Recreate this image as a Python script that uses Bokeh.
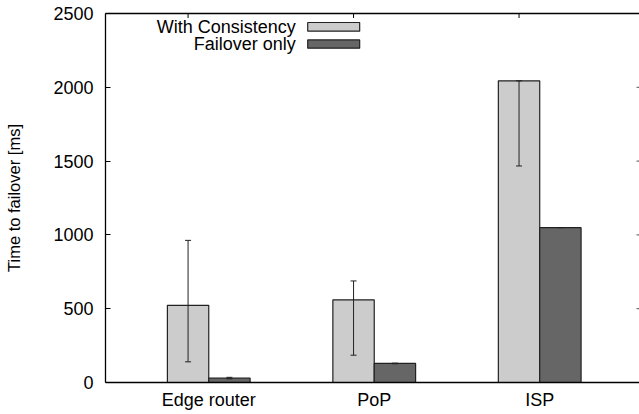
import numpy as np
from bokeh.plotting import figure
from bokeh.models import Range1d, FixedTicker, LinearAxis, ColumnDataSource, Whisker, TeeHead
from bokeh.core.properties import value
from bokeh.embed import file_html
from bokeh.resources import INLINE

# ---- data ----
categories = ["Edge router", "PoP", "ISP"]
consistency = [523, 560, 2044]
consistency_lo = [140, 185, 1467]
consistency_hi = [963, 688, 2044]
failover = [29, 129, 1049]
failover_lo = [25, 127, 1049]
failover_hi = [35, 131, 1050]
y_ticks = [0, 500, 1000, 1500, 2000, 2500]
series_names = ["With Consistency", "Failover only"]
series_colors = ["#cccccc", "#666666"]

FONT = "Liberation Sans"
idx = np.arange(len(categories), dtype=float)
bar_w = 0.25
x_start, x_end = -0.624, 2.603
y_start, y_end = 0, 2500

p = figure(frame_width=534, frame_height=369,
           x_range=Range1d(x_start, x_end), y_range=Range1d(y_start, y_end),
           output_backend="svg", toolbar_location=None,
           min_border_left=105, min_border_right=0, min_border_top=13,
           min_border_bottom=31)
p.outline_line_color = None
p.grid.grid_line_color = None
p.background_fill_color = "white"
p.border_fill_color = "white"

src1 = ColumnDataSource(dict(x=idx - bar_w / 2, top=consistency,
                             lo=consistency_lo, hi=consistency_hi))
src2 = ColumnDataSource(dict(x=idx + bar_w / 2, top=failover,
                             lo=failover_lo, hi=failover_hi))

p.vbar(x="x", top="top", width=bar_w, bottom=0, source=src1,
       fill_color=series_colors[0], line_color="#222222", line_width=1.2)
p.vbar(x="x", top="top", width=bar_w, bottom=0, source=src2,
       fill_color=series_colors[1], line_color="#222222", line_width=1.2)

for src in (src1, src2):
    w = Whisker(source=src, base="x", upper="hi", lower="lo",
                line_color="#222222", line_width=1,
                upper_head=TeeHead(size=6, line_color="#222222", line_width=1),
                lower_head=TeeHead(size=6, line_color="#222222", line_width=1),
                level="overlay")
    p.add_layout(w)

# ---- legend (gnuplot style: text right-aligned, swatch to the right) ----
leg_text_x = [0.526, 0.526]
leg_text_y = [2407, 2292]
leg_box_left = [0.598, 0.598]
leg_box_right = [0.912, 0.912]
leg_box_top = [2439, 2321]
leg_box_bottom = [2380, 2265]
p.text(x=leg_text_x, y=leg_text_y, text=series_names,
       text_align="right", text_baseline="middle",
       text_font=value(FONT), text_font_size="18px", text_color="black")
p.quad(left=leg_box_left, right=leg_box_right, top=leg_box_top,
       bottom=leg_box_bottom, fill_color=series_colors,
       line_color="#222222", line_width=1.2)

# ---- mirrored tick marks (top: at first-series bar centres; right: y ticks) ----
top_tick_x = list(idx - bar_w / 2)
p.scatter(x=top_tick_x, y=[y_end] * len(top_tick_x), marker="dash",
          angle=np.pi / 2, size=9, line_color="black", line_width=1)
right_tick_y = y_ticks[1:-1]
p.scatter(x=[x_end] * len(right_tick_y), y=right_tick_y, marker="dash",
          size=6, line_color="#555555", line_width=1)

# ---- axes ----
xa = p.xaxis[0]
xa.ticker = FixedTicker(ticks=list(idx))
xa.major_label_overrides = {int(i): c for i, c in zip(idx, categories)}
xa.major_tick_out = 0
xa.major_tick_in = 0
xa.minor_tick_line_color = None
xa.axis_line_color = "black"
xa.axis_line_width = 1.3
xa.major_label_text_font = FONT
xa.major_label_text_font_size = "18px"
xa.major_label_text_color = "black"
xa.major_label_standoff = 7

ya = p.yaxis[0]
ya.ticker = FixedTicker(ticks=y_ticks)
ya.major_tick_out = 0
ya.major_tick_in = 5
ya.major_tick_line_color = "black"
ya.minor_tick_line_color = None
ya.axis_line_color = "black"
ya.axis_line_width = 1.3
ya.major_label_text_font = FONT
ya.major_label_text_font_size = "18px"
ya.major_label_text_color = "black"
ya.major_label_standoff = 12
ya.axis_label = "Time to failover [ms]"
ya.axis_label_text_font = FONT
ya.axis_label_text_font_size = "16.5px"
ya.axis_label_text_font_style = "normal"
ya.axis_label_text_color = "black"
ya.axis_label_standoff = 27

top_ax = LinearAxis(ticker=FixedTicker(ticks=[]), major_tick_in=0,
                    major_tick_out=0, minor_tick_line_color=None,
                    axis_line_color="black", axis_line_width=1.3)
p.add_layout(top_ax, "above")

open("out.html", "w").write(file_html(p, INLINE))
